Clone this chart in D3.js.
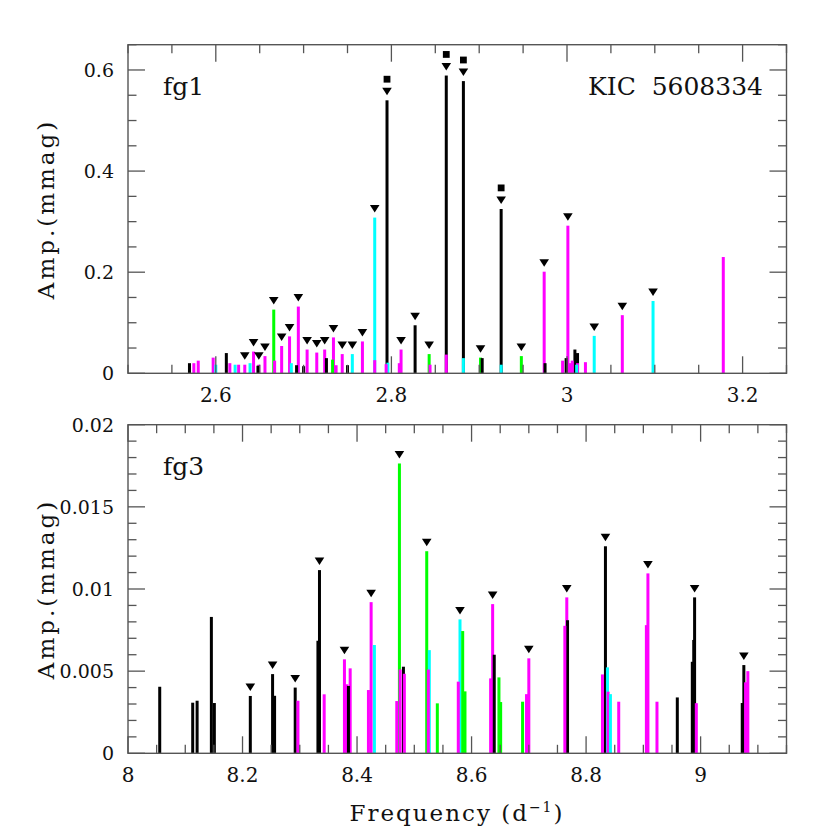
<!DOCTYPE html>
<html><head><meta charset="utf-8">
<script src="https://cdn.jsdelivr.net/npm/d3@7"></script>
<style>body{margin:0;background:#fff}</style>
</head><body>
<script>
// ---------- DATA: [frequency (d^-1), amplitude (mmag), mark: 0 none, 1 triangle, 2 triangle+square]
const fg1Black = [
  [2.570,0.020,0],[2.612,0.040,0],[2.648,0.015,0],[2.692,0.016,0],[2.700,0.014,0],
  [2.726,0.030,0],[2.750,0.016,0],[2.795,0.540,2],[2.827,0.095,1],[2.8625,0.589,2],
  [2.882,0.578,2],[2.9034,0.030,0],[2.925,0.325,2],[2.975,0.020,0],[2.999,0.030,0],
  [3.009,0.047,0],[3.012,0.040,0]
];
const fg1Magenta = [
  [2.575,0.020,0],[2.580,0.025,0],[2.597,0.031,0],[2.616,0.020,0],[2.626,0.017,0],
  [2.633,0.017,1],[2.643,0.043,1],[2.649,0.017,1],[2.656,0.034,1],[2.667,0.025,0],
  [2.675,0.054,1],[2.684,0.073,1],[2.694,0.132,1],[2.704,0.047,1],[2.715,0.041,1],
  [2.724,0.047,1],[2.734,0.071,1],[2.737,0.016,0],[2.744,0.038,1],[2.767,0.063,1],
  [2.781,0.026,0],[2.794,0.018,0],[2.809,0.020,0],[2.811,0.047,1],[2.844,0.017,0],
  [2.8625,0.037,0],[2.974,0.201,1],[2.995,0.025,0],[3.001,0.292,1],[3.004,0.020,0],
  [3.006,0.025,0],[3.012,0.020,0],[3.021,0.022,0],[3.063,0.115,1],[3.178,0.230,0]
];
const fg1Cyan = [
  [2.600,0.017,0],[2.622,0.017,0],[2.639,0.020,0],[2.686,0.020,0],[2.7555,0.038,1],
  [2.781,0.308,1],[2.796,0.021,0],[2.882,0.030,0],[2.925,0.017,0],[3.011,0.017,0],
  [3.031,0.074,1],[3.098,0.143,1]
];
const fg1Green = [
  [2.666,0.126,1],[2.733,0.027,0],[2.843,0.038,1],[2.9015,0.031,1],[2.948,0.034,1]
];

const fg3Black = [
  [8.0554,0.00405,0],[8.113,0.00308,0],[8.1207,0.0032,0],[8.1456,0.0083,0],[8.1508,0.00306,0],
  [8.2136,0.00349,1],[8.2525,0.00482,1],[8.256,0.0035,0],[8.292,0.0040,1],[8.3317,0.00685,0],
  [8.3344,0.01115,1],[8.385,0.0041,0],[8.481,0.00527,0],[8.6396,0.0060,0],[8.7676,0.0081,0],
  [8.8338,0.0126,1],[8.9593,0.0034,0],[8.9855,0.00557,0],[8.988,0.0069,0],[8.9895,0.00949,1],
  [9.0727,0.00306,0],[9.0755,0.00537,1]
];
const fg3Magenta = [
  [8.2968,0.0032,0],[8.3426,0.00359,0],[8.378,0.00572,1],[8.3822,0.0042,0],[8.388,0.00517,0],
  [8.4199,0.00385,0],[8.4246,0.0092,1],[8.4694,0.00318,0],[8.4752,0.0051,0],[8.4826,0.00484,0],
  [8.5245,0.0051,0],[8.5768,0.00436,0],[8.6333,0.00456,0],[8.6368,0.00908,1],[8.696,0.0036,0],
  [8.700,0.00578,1],[8.7629,0.00776,0],[8.7663,0.00949,1],[8.8286,0.0048,0],[8.8384,0.00375,0],
  [8.857,0.00314,0],[8.9053,0.0078,0],[8.908,0.01095,1],[8.9238,0.00314,0],[8.9925,0.00305,0],
  [9.0785,0.00432,0],[9.0825,0.0050,0]
];
const fg3Cyan = [
  [8.4303,0.00659,0],[8.5262,0.00628,0],[8.5798,0.00815,1],[8.8373,0.00523,0],[8.8425,0.0036,0]
];
const fg3Green = [
  [8.474,0.01764,1],[8.5217,0.0123,1],[8.5402,0.00304,0],[8.5845,0.00744,0],[8.5885,0.00377,0],
  [8.6478,0.00462,0],[8.6508,0.00312,0],[8.6891,0.00314,0]
];

const fg1XLabels = [2.6, 2.8, 3.0, 3.2];
const fg1YLabels = [0, 0.2, 0.4, 0.6];
const fg3XLabels = [8.0, 8.2, 8.4, 8.6, 8.8, 9.0];
const fg3YLabels = [0, 0.005, 0.01, 0.015, 0.02];

const seriesColors = {black:"#000000", magenta:"#ff00ff", cyan:"#00ffff", green:"#00ff00"};

// ---------- DRAWING
const W = 830, H = 830;
const svg = d3.select("body").append("svg").attr("width", W).attr("height", H)
  .style("font-family", "'DejaVu Serif', serif");

const frameColor = "#555";

function panel(cfg) {
  const g = svg.append("g");
  const x = d3.scaleLinear().domain(cfg.xDomain).range([cfg.left, cfg.right]);
  const y = d3.scaleLinear().domain(cfg.yDomain).range([cfg.bottom, cfg.top]);

  // bars: tallest first, so smaller ones stay visible on top
  const all = [];
  cfg.series.forEach(s => s.data.forEach(d => all.push({f:d[0], a:d[1], m:d[2], c:seriesColors[s.name]})));
  all.sort((p, q) => q.a - p.a);
  g.selectAll("rect.bar").data(all).join("rect").attr("class","bar")
    .attr("x", d => x(d.f) - 1.5).attr("width", 3)
    .attr("y", d => y(d.a)).attr("height", d => y(0) - y(d.a))
    .attr("fill", d => d.c);

  const marked = all.filter(d => d.m > 0);
  g.selectAll("path.tri").data(marked).join("path").attr("class","tri")
    .attr("d", d => { const cx = x(d.f), t = y(d.a);
      return `M${cx-4.8},${t-12.5}L${cx+4.8},${t-12.5}L${cx},${t-5}Z`; })
    .attr("fill", "#000");
  g.selectAll("rect.sq").data(marked.filter(d => d.m > 1)).join("rect").attr("class","sq")
    .attr("x", d => x(d.f) - 3.4).attr("width", 6.8)
    .attr("y", d => y(d.a) - 24.5).attr("height", 6.8)
    .attr("fill", "#000");

  // frame
  g.append("rect").attr("x", cfg.left).attr("y", cfg.top)
    .attr("width", cfg.right - cfg.left).attr("height", cfg.bottom - cfg.top)
    .attr("fill", "none").attr("stroke", frameColor).attr("stroke-width", 1.4);

  const MAJ = 17, MIN = 8.5;
  const eps = 1e-9;
  function ticks(d0, d1, step) {
    const out = [];
    const n0 = Math.ceil(d0 / step - eps), n1 = Math.floor(d1 / step + eps);
    for (let i = n0; i <= n1; i++) out.push(+(i * step).toFixed(6));
    return out;
  }
  const isMajor = (v, step) => Math.abs(v / step - Math.round(v / step)) < 1e-6;

  const xt = ticks(cfg.xDomain[0], cfg.xDomain[1], cfg.xMinor);
  const tk = g.append("g").attr("stroke", frameColor).attr("stroke-width", 1.3);
  xt.forEach(v => {
    const L = isMajor(v, cfg.xMajor) ? MAJ : MIN, px = x(v);
    tk.append("line").attr("x1", px).attr("x2", px).attr("y1", cfg.bottom).attr("y2", cfg.bottom - L);
    tk.append("line").attr("x1", px).attr("x2", px).attr("y1", cfg.top).attr("y2", cfg.top + L);
  });
  const yt = ticks(cfg.yDomain[0], cfg.yDomain[1], cfg.yMinor);
  yt.forEach(v => {
    const L = isMajor(v, cfg.yMajor) ? MAJ : MIN, py = y(v);
    tk.append("line").attr("y1", py).attr("y2", py).attr("x1", cfg.left).attr("x2", cfg.left + L);
    tk.append("line").attr("y1", py).attr("y2", py).attr("x1", cfg.right).attr("x2", cfg.right - L);
  });

  const fmt = v => String(+v.toFixed(4));
  g.selectAll("text.xl").data(cfg.xLabels).join("text").attr("class","xl")
    .attr("x", d => x(d)).attr("y", cfg.bottom + 29)
    .attr("text-anchor", "middle").attr("font-size", 20).attr("fill", "#111")
    .text(fmt);
  g.selectAll("text.yl").data(cfg.yLabels).join("text").attr("class","yl")
    .attr("x", cfg.left - 14).attr("y", d => y(d)).attr("dy", "0.36em")
    .attr("text-anchor", "end").attr("font-size", 19).attr("fill", "#111")
    .text(fmt);

  // y title
  g.append("text")
    .attr("transform", `translate(54,${(cfg.top + cfg.bottom) / 2}) rotate(-90)`)
    .attr("text-anchor", "middle").attr("font-size", 23).attr("letter-spacing", 3)
    .attr("fill", "#111").text("Amp.(mmag)");

  g.append("text").attr("x", cfg.left + 35).attr("y", cfg.top + 50)
    .attr("font-size", 25).attr("fill", "#111").text(cfg.tag);
  return {x, y};
}

panel({
  left:128, right:786.5, top:44.7, bottom:373.3,
  xDomain:[2.5, 3.25], yDomain:[0, 0.65],
  xMinor:0.05, xMajor:0.2, yMinor:0.05, yMajor:0.2,
  xLabels:fg1XLabels, yLabels:fg1YLabels, tag:"fg1",
  series:[{name:"black",data:fg1Black},{name:"magenta",data:fg1Magenta},
          {name:"cyan",data:fg1Cyan},{name:"green",data:fg1Green}]
});
panel({
  left:128, right:786.5, top:424.7, bottom:753.3,
  xDomain:[8.0, 9.15], yDomain:[0, 0.02],
  xMinor:0.05, xMajor:0.2, yMinor:0.001, yMajor:0.005,
  xLabels:fg3XLabels, yLabels:fg3YLabels, tag:"fg3",
  series:[{name:"black",data:fg3Black},{name:"magenta",data:fg3Magenta},
          {name:"cyan",data:fg3Cyan},{name:"green",data:fg3Green}]
});

svg.append("text").attr("x", 763).attr("y", 95).attr("text-anchor", "end")
  .attr("font-size", 25).attr("fill", "#111").attr("xml:space","preserve")
  .style("white-space","pre").text("KIC  5608334");

const xt = svg.append("text").attr("x", 457).attr("y", 821).attr("text-anchor", "middle")
  .attr("font-size", 23).attr("letter-spacing", 2).attr("fill", "#111");
xt.append("tspan").text("Frequency (d");
xt.append("tspan").attr("font-size", 14).attr("dy", -9).text("−1");
xt.append("tspan").attr("dy", 9).text(")");
</script>
</body></html>
